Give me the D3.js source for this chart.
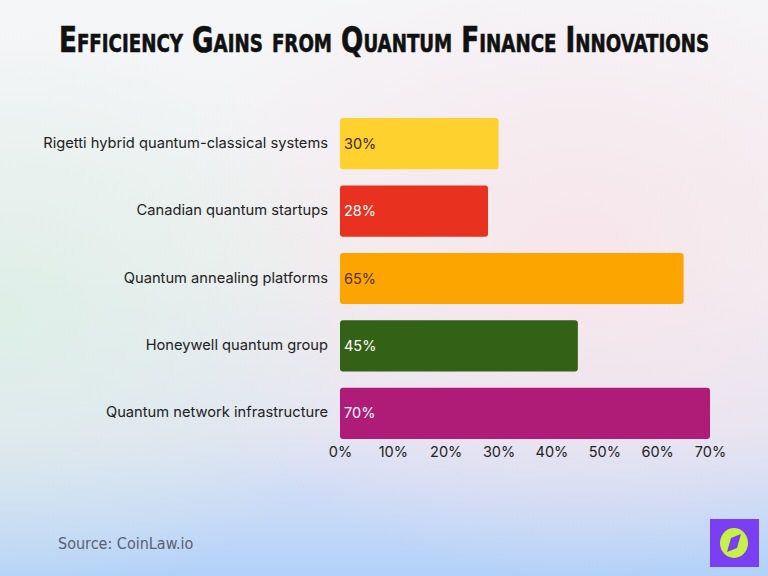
<!DOCTYPE html>
<html>
<head>
<meta charset="utf-8">
<script src="https://cdn.jsdelivr.net/npm/d3@7"></script>
<style>
  html, body { margin: 0; padding: 0; }
  body { width: 768px; height: 576px; overflow: hidden; }
</style>
</head>
<body>
<div class="chart"></div>
<script>
'use strict';

var categories = [
    "Rigetti hybrid quantum-classical systems",
    "Canadian quantum startups",
    "Quantum annealing platforms",
    "Honeywell quantum group",
    "Quantum network infrastructure"
];
var values = [30, 28, 65, 45, 70];
var barColors = ["#fed12f", "#e8321f", "#fca501", "#336115", "#ae1c77"];
var labelColors = ["#3a2a10", "#ffffff", "#5a3000", "#ffffff", "#ffffff"];
var ticks = [0, 10, 20, 30, 40, 50, 60, 70];

var width = 768;
var height = 576;

var svg = d3.select("div.chart")
    .append("svg")
    .attr("width", width)
    .attr("height", height);

// background
var defs = svg.append("defs");
var lg = defs.append("linearGradient").attr("id", "bg").attr("x1", 0).attr("y1", 0).attr("x2", 0).attr("y2", 1);
lg.append("stop").attr("offset", "0%").attr("stop-color", "#f5f6f8");
lg.append("stop").attr("offset", "45%").attr("stop-color", "#f1f1f3");
lg.append("stop").attr("offset", "75%").attr("stop-color", "#e2e4f4");
lg.append("stop").attr("offset", "100%").attr("stop-color", "#b2d1f9");

var rgPink = defs.append("radialGradient").attr("id", "pink").attr("cx", 0.75).attr("cy", 0.45).attr("r", 0.55);
rgPink.append("stop").attr("offset", "0%").attr("stop-color", "#f8e4ea").attr("stop-opacity", 0.9);
rgPink.append("stop").attr("offset", "100%").attr("stop-color", "#f8e4ea").attr("stop-opacity", 0);

var rgGreen = defs.append("radialGradient").attr("id", "green").attr("cx", 0.0).attr("cy", 0.55).attr("r", 0.5);
rgGreen.append("stop").attr("offset", "0%").attr("stop-color", "#dcefe6").attr("stop-opacity", 0.9);
rgGreen.append("stop").attr("offset", "100%").attr("stop-color", "#dcefe6").attr("stop-opacity", 0);

svg.append("rect").attr("width", width).attr("height", height).attr("fill", "url(#bg)");
svg.append("rect").attr("width", width).attr("height", height).attr("fill", "url(#pink)");
svg.append("rect").attr("width", width).attr("height", height).attr("fill", "url(#green)");

// title
svg.append("text")
    .attr("x", 384)
    .attr("y", 52)
    .attr("text-anchor", "middle")
    .attr("font-family", "'DejaVu Sans Condensed', 'Liberation Sans Narrow', sans-serif")
    .attr("font-weight", "bold")
    .attr("font-size", 36)
    .style("font-variant", "small-caps")
    .attr("textLength", 650)
    .attr("lengthAdjust", "spacingAndGlyphs")
    .attr("fill", "#111")
    .attr("stroke", "#111")
    .attr("stroke-width", 0.6)
    .text("Efficiency Gains from Quantum Finance Innovations");

var x = d3.scaleLinear().domain([0, 70]).range([340, 710]);
var y = d3.scaleBand().domain(categories).range([110, 447]).paddingInner(0.24).paddingOuter(0.12);

var font = "Inter, 'Open Sans', sans-serif";

svg.selectAll("rect.bar")
    .data(values)
    .enter()
    .append("rect")
    .attr("class", "bar")
    .attr("x", x(0))
    .attr("y", function(d, i) { return y(categories[i]); })
    .attr("width", function(d) { return x(d) - x(0); })
    .attr("height", y.bandwidth())
    .attr("rx", 3)
    .attr("fill", function(d, i) { return barColors[i]; });

svg.selectAll("text.val")
    .data(values)
    .enter()
    .append("text")
    .attr("class", "val")
    .attr("x", x(0) + 4)
    .attr("y", function(d, i) { return y(categories[i]) + y.bandwidth() / 2; })
    .attr("dy", "0.35em")
    .attr("font-family", font)
    .attr("font-size", 14.5)
    .attr("fill", function(d, i) { return labelColors[i]; })
    .text(function(d) { return d + "%"; });

svg.selectAll("text.cat")
    .data(categories)
    .enter()
    .append("text")
    .attr("class", "cat")
    .attr("x", 328)
    .attr("y", function(d) { return y(d) + y.bandwidth() / 2 - 1; })
    .attr("dy", "0.35em")
    .attr("text-anchor", "end")
    .attr("font-family", font)
    .attr("font-size", 14.7)
    .attr("fill", "#222")
    .text(function(d) { return d; });

var xAxis = svg.append("g")
    .attr("transform", "translate(0,439)")
    .call(d3.axisBottom(x).tickValues(ticks).tickSize(0).tickPadding(8).tickFormat(function(d) { return d + "%"; }));
xAxis.select(".domain").remove();
xAxis.selectAll("text")
    .attr("font-family", font)
    .attr("font-size", 14.5)
    .attr("fill", "#222");

// source
svg.append("text")
    .attr("x", 58)
    .attr("y", 549)
    .attr("font-family", "'DejaVu Sans Condensed', sans-serif")
    .attr("font-size", 16)
    .attr("fill", "#5a6270")
    .text("Source: CoinLaw.io");

// logo
var logo = svg.append("g").attr("transform", "translate(710,519)");
logo.append("rect").attr("width", 49).attr("height", 48).attr("fill", "#7a3ff0");
logo.append("ellipse").attr("cx", 24).attr("cy", 24).attr("rx", 14).attr("ry", 15).attr("fill", "#c6f048");
logo.append("path").attr("d", "M31,15 L27,29 L17,33 L21,19 Z").attr("fill", "#7a3ff0");
</script>
</body>
</html>
